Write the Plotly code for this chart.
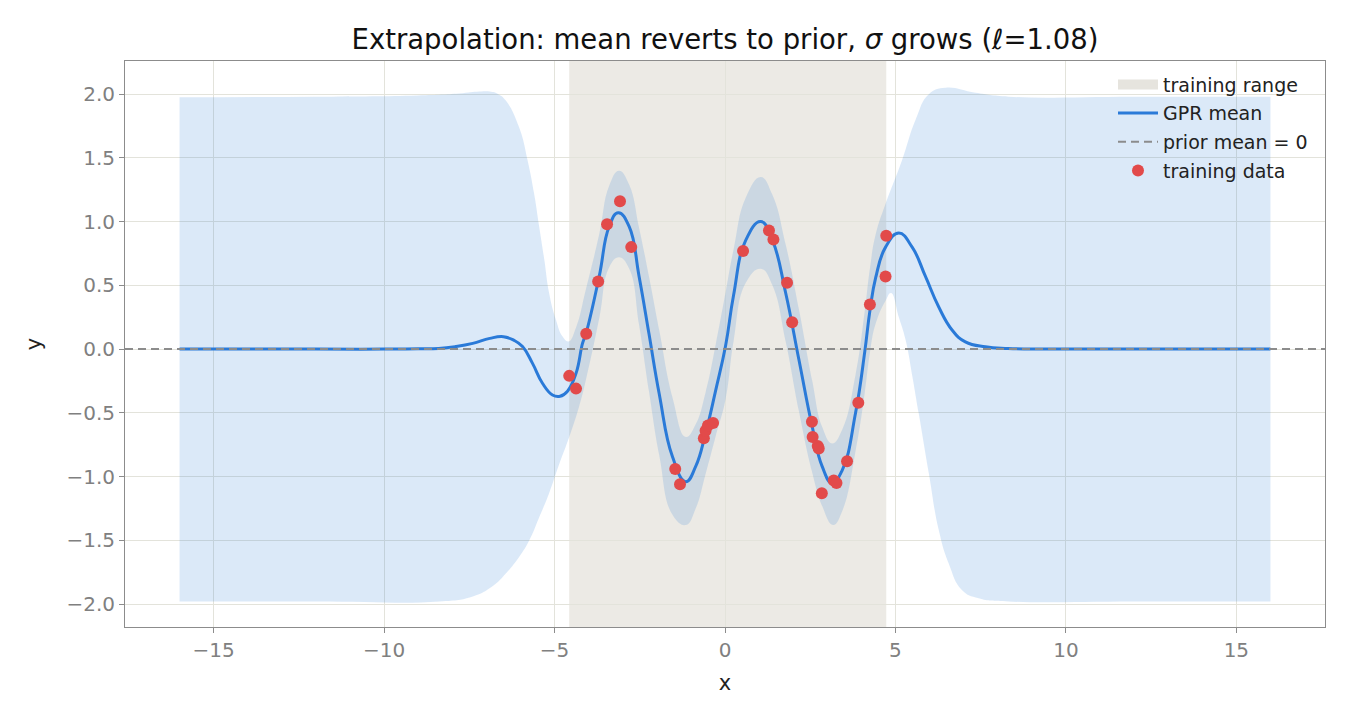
import plotly.graph_objects as go

# ---- data ----
train_x = [-4.57, -4.37, -4.07, -3.72, -3.46, -3.08, -2.75, -1.46, -1.32, -0.62, -0.57, -0.50, -0.35,
           0.53, 1.29, 1.42, 1.82, 1.97, 2.55, 2.57, 2.72, 2.75, 2.84, 3.19, 3.27, 3.58, 3.91, 4.25, 4.71, 4.73]
train_y = [-0.21, -0.31, 0.12, 0.53, 0.98, 1.16, 0.80, -0.94, -1.06, -0.70, -0.64, -0.60, -0.58,
           0.77, 0.93, 0.86, 0.52, 0.21, -0.57, -0.69, -0.76, -0.78, -1.13, -1.03, -1.05, -0.88, -0.42, 0.35, 0.57, 0.89]

mean_x = [-16, -12, -10, -9, -8.4, -7.9, -7.4, -6.9, -6.5, -6.2, -5.94, -5.65, -5.35, -5.06, -4.84, -4.62,
          -4.37, -4.18, -4.08, -3.69, -3.40, -3.13, -2.81, -2.52, -2.23, -1.93, -1.54, -1.15, -0.86, -0.57,
          -0.27, 0.02, 0.25, 0.61, 1.05, 1.39, 1.78, 2.17, 2.56, 2.85, 3.14, 3.44, 3.83, 4.10, 4.25, 4.42,
          4.71, 5.10, 5.49, 5.88, 6.27, 6.66, 7.05, 7.64, 8.3, 9, 12, 16]
mean_y = [0, 0, 0, 0.002, 0.005, 0.02, 0.045, 0.084, 0.097, 0.07, 0.02, -0.11, -0.27, -0.36, -0.37, -0.33,
          -0.19, 0.045, 0.12, 0.57, 0.96, 1.07, 0.96, 0.57, 0.12, -0.35, -0.845, -1.04, -0.92, -0.66,
          -0.32, 0.03, 0.42, 0.855, 1.0, 0.855, 0.44, -0.086, -0.61, -0.92, -1.05, -0.95, -0.50, -0.02, 0.30, 0.56,
          0.80, 0.91, 0.80, 0.57, 0.33, 0.15, 0.057, 0.018, 0.005, 0.001, 0, 0]

upper_x = [-16, -12, -9, -7.8, -7.2, -6.9, -6.65, -6.43, -6.04, -5.79, -5.60, -5.45, -5.30, -5.16, -4.96,
           -4.77, -4.59, -4.37, -4.08, -3.69, -3.40, -3.11, -2.81, -2.52, -2.23, -1.93, -1.54, -1.15, -0.86,
           -0.57, -0.27, 0.02, 0.25, 0.61, 1.05, 1.39, 1.78, 2.17, 2.56, 2.85, 3.14, 3.44, 3.83, 4.10, 4.25,
           4.42, 4.71, 5.19, 5.59, 5.98, 6.47, 7.35, 8.32, 12, 16]
upper_y = [1.975, 1.98, 1.99, 2.005, 2.02, 2.02, 2.0, 1.95, 1.74, 1.48, 1.22, 0.96, 0.70, 0.44, 0.23,
           0.10, 0.06, 0.17, 0.47, 0.90, 1.28, 1.40, 1.29, 0.95, 0.57, 0.15, -0.38, -0.69, -0.59,
           -0.34, 0.04, 0.45, 0.78, 1.19, 1.35, 1.21, 0.82, 0.31, -0.25, -0.61, -0.74, -0.63, -0.20, 0.30, 0.63,
           0.90, 1.14, 1.48, 1.80, 2.0, 2.05, 2.01, 1.98, 1.98, 1.98]

lower_x = [-16, -12, -8.38, -7.40, -6.82, -6.43, -6.04, -5.74, -5.45, -5.16, -4.86, -4.57, -4.28, -4.08,
           -3.69, -3.40, -3.11, -2.81, -2.52, -2.23, -1.93, -1.54, -1.15, -0.86, -0.57, -0.27, 0.02, 0.25,
           0.61, 1.05, 1.39, 1.78, 2.17, 2.56, 2.85, 3.17, 3.44, 3.83, 4.10, 4.25, 4.42, 4.71, 4.87, 5.10,
           5.30, 5.50, 5.68, 5.98, 6.27, 6.56, 6.95, 7.44, 8.32, 12, 16]
lower_y = [-1.98, -1.98, -1.98, -1.94, -1.86, -1.76, -1.63, -1.50, -1.32, -1.13, -0.90, -0.69, -0.45, -0.24,
           0.24, 0.64, 0.72, 0.63, 0.19, -0.33, -0.83, -1.30, -1.38, -1.25, -0.98, -0.68, -0.39, 0.06,
           0.52, 0.63, 0.50, 0.06, -0.49, -0.97, -1.23, -1.38, -1.27, -0.80, -0.34, -0.03, 0.20, 0.38, 0.44, 0.25,
           0.07, -0.22, -0.50, -0.975, -1.42, -1.68, -1.89, -1.955, -1.98, -1.98, -1.98]

prior_mean = 0
x_range = [-17.6, 17.6]
y_range = [-2.18, 2.26]

BLUE = "#2a7ad8"
BAND = "rgba(42,122,216,0.17)"
RED = "#e24a4a"
GREY = "#8c8c8c"
SPAN = "rgba(200,196,180,0.35)"
FONT = "DejaVu Sans"
SMOOTH = 1.3

fig = go.Figure()

fig.add_trace(go.Scatter(x=lower_x, y=lower_y, mode="lines", line=dict(width=0, shape="spline", smoothing=SMOOTH),
                         showlegend=False, hoverinfo="skip"))
fig.add_trace(go.Scatter(x=upper_x, y=upper_y, mode="lines", line=dict(width=0, shape="spline", smoothing=SMOOTH),
                         fill="tonexty", fillcolor=BAND, showlegend=False, hoverinfo="skip"))

# legend-only entry for the training range span (drawn as a shape below)
fig.add_trace(go.Scatter(x=[None], y=[None], mode="lines", name="training range",
                         line=dict(color="#e6e4de", width=12), legendrank=1, legendgroup="g1"))

fig.add_trace(go.Scatter(x=mean_x, y=mean_y, mode="lines", name="GPR mean",
                         line=dict(color=BLUE, width=3, shape="spline", smoothing=SMOOTH),
                         legendrank=2, legendgroup="g2"))

fig.add_trace(go.Scatter(x=train_x, y=train_y, mode="markers", name="training data",
                         marker=dict(color=RED, size=12, line=dict(width=0)),
                         legendrank=4, legendgroup="g4"))

fig.add_shape(type="rect", xref="x", yref="paper", x0=min(train_x), x1=max(train_x), y0=0, y1=1,
              fillcolor=SPAN, line=dict(width=0), layer="below")

fig.add_shape(type="line", xref="paper", yref="y", x0=0, x1=1, y0=prior_mean, y1=prior_mean,
              line=dict(color=GREY, width=2, dash="8px,5px"), layer="above",
              showlegend=True, name="prior mean = 0", legendrank=3, legendgroup="g3")

axis_common = dict(
    showgrid=True, gridcolor="#e3e3db", gridwidth=1, zeroline=False,
    showline=True, linecolor=GREY, linewidth=1, mirror=True,
    ticks="outside", ticklen=5, tickcolor=GREY, tickwidth=1,
    tickfont=dict(family=FONT, size=20, color="#808080"),
)

fig.update_xaxes(range=x_range, dtick=5, tick0=0,
                 title=dict(text="x", font=dict(family=FONT, size=21, color="#222"), standoff=14),
                 **axis_common)
fig.update_yaxes(range=y_range, dtick=0.5, tick0=0, tickformat=".1f",
                 title=dict(text="y", font=dict(family=FONT, size=21, color="#222"), standoff=19), **axis_common)

fig.update_layout(
    width=1350, height=720,
    margin=dict(l=125, r=25, t=61, b=93),
    paper_bgcolor="white", plot_bgcolor="white",
    font=dict(family=FONT, color="#222"),
    title=dict(text="Extrapolation: mean reverts to prior, <i>σ</i> grows (ℓ=1.08)",
               x=0.5, xanchor="center", xref="paper", y=0.945, yanchor="middle",
               font=dict(family=FONT, size=27.5, color="#111")),
    legend=dict(x=0.99, xanchor="right", y=0.992, yanchor="top", bgcolor="rgba(0,0,0,0)",
                font=dict(family=FONT, size=19, color="#222"), tracegroupgap=1, itemwidth=40),
    showlegend=True,
)

fig.write_html("out.html")
